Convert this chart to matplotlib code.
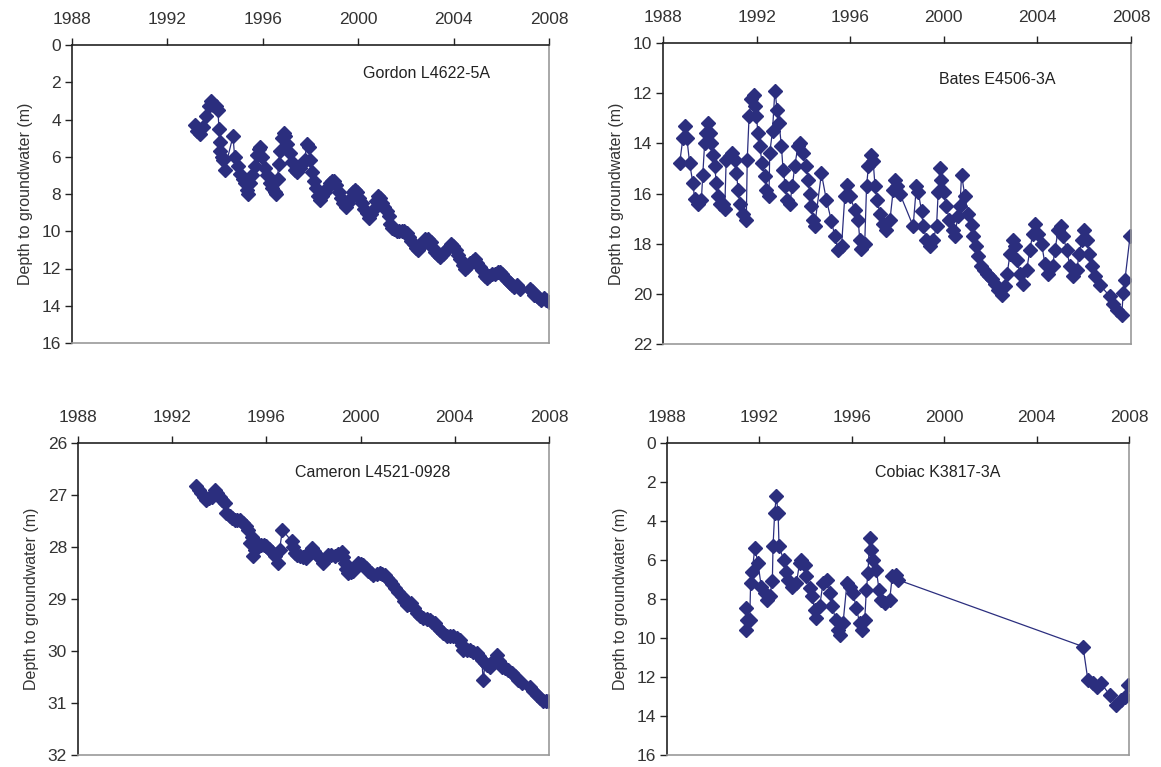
import matplotlib
matplotlib.use("Agg")
import matplotlib.pyplot as plt

plt.rcParams['font.family'] = ['Liberation Sans', 'DejaVu Sans']

NAVY = '#2B2E7E'

# ---------------- data ----------------
gordon_year = [1993.14, 1993.25, 1993.38, 1993.50, 1993.63, 1993.75, 1993.84, 1993.92, 1994.02, 1994.12,
               1994.16, 1994.19, 1994.22, 1994.27, 1994.33, 1994.40, 1994.75, 1994.82, 1994.95, 1995.05,
               1995.15, 1995.24, 1995.32, 1995.38, 1995.45, 1995.55, 1995.66, 1995.75, 1995.82, 1995.90,
               1995.98, 1996.08, 1996.18, 1996.29, 1996.40, 1996.50, 1996.57, 1996.62, 1996.66, 1996.72,
               1996.80, 1996.87, 1996.95, 1997.03, 1997.13, 1997.22, 1997.34, 1997.45, 1997.55, 1997.65,
               1997.75, 1997.85, 1997.92, 1997.98, 1998.06, 1998.15, 1998.25, 1998.33, 1998.40, 1998.50,
               1998.60, 1998.70, 1998.80, 1998.90, 1998.98, 1999.08, 1999.18, 1999.28, 1999.38, 1999.48,
               1999.58, 1999.68, 1999.78, 1999.88, 1999.95, 2000.05, 2000.15, 2000.25, 2000.35, 2000.45,
               2000.55, 2000.65, 2000.75, 2000.85, 2000.92, 2001.00, 2001.10, 2001.20, 2001.28, 2001.33,
               2001.42, 2001.52, 2001.62, 2001.72, 2001.82, 2001.92, 2002.03, 2002.12, 2002.22, 2002.32,
               2002.42, 2002.52, 2002.62, 2002.72, 2002.82, 2002.94, 2003.04, 2003.14, 2003.24, 2003.34,
               2003.45, 2003.56, 2003.67, 2003.78, 2003.90, 2003.99, 2004.08, 2004.18, 2004.28, 2004.38,
               2004.48, 2004.58, 2004.70, 2004.80, 2004.90, 2005.00, 2005.10, 2005.20, 2005.30, 2005.40,
               2005.50, 2005.62, 2005.75, 2005.85, 2005.95, 2006.05, 2006.15, 2006.25, 2006.35, 2006.45,
               2006.55, 2006.65, 2006.79, 2007.20, 2007.29, 2007.38, 2007.48, 2007.58, 2007.68, 2007.78,
               2007.88, 2007.98]
gordon_depth = [4.3, 4.6, 4.8, 4.4, 3.8, 3.3, 3.0, 3.2, 3.3, 3.5,
                4.5, 5.2, 5.7, 6.0, 6.2, 6.7, 4.9, 6.0, 6.5, 6.9,
                7.2, 7.4, 7.8, 8.0, 7.4, 7.0, 6.5, 5.9, 5.6, 5.5,
                6.0, 6.6, 7.0, 7.4, 7.7, 7.9, 8.0, 7.2, 6.4, 5.7,
                5.0, 4.7, 4.9, 5.3, 5.8, 6.3, 6.7, 6.8, 6.6, 6.4,
                6.2, 5.3, 5.5, 6.2, 6.8, 7.3, 7.7, 8.1, 8.3, 8.1,
                7.9, 7.7, 7.4, 7.3, 7.3, 7.5, 7.9, 8.2, 8.5, 8.7,
                8.5, 8.2, 7.9, 7.8, 7.9, 8.2, 8.5, 8.8, 9.0, 9.3,
                9.1, 8.8, 8.4, 8.1, 8.2, 8.5, 8.7, 8.9, 9.2, 9.6,
                9.8, 9.9, 10.0, 10.0, 10.0, 10.0, 10.1, 10.3, 10.5, 10.7,
                10.9, 11.0, 10.8, 10.6, 10.4, 10.4, 10.6, 10.9, 11.1, 11.3,
                11.4, 11.2, 11.0, 10.9, 10.7, 10.8, 11.0, 11.3, 11.5, 11.8,
                12.0, 11.9, 11.7, 11.6, 11.5, 11.7, 11.9, 12.1, 12.4, 12.5,
                12.4, 12.3, 12.3, 12.2, 12.2, 12.3, 12.5, 12.6, 12.8, 12.9,
                13.0, 12.9, 13.1, 13.1, 13.2, 13.4, 13.5, 13.6, 13.7, 13.6,
                13.7, 13.8]

bates_year = [1988.71, 1988.85, 1988.93, 1989.02, 1989.14, 1989.28, 1989.35, 1989.50, 1989.64, 1989.70,
              1989.78, 1989.85, 1989.92, 1990.00, 1990.07, 1990.14, 1990.21, 1990.28, 1990.35, 1990.45,
              1990.57, 1990.64, 1990.70, 1990.85, 1990.95, 1991.06, 1991.14, 1991.21, 1991.28, 1991.42,
              1991.56, 1991.60, 1991.68, 1991.78, 1991.88, 1991.93, 1991.99, 1992.06, 1992.13, 1992.24,
              1992.35, 1992.42, 1992.53, 1992.56, 1992.68, 1992.78, 1992.88, 1992.96, 1993.06, 1993.13,
              1993.23, 1993.30, 1993.42, 1993.53, 1993.63, 1993.77, 1993.84, 1993.99, 1994.13, 1994.20,
              1994.27, 1994.34, 1994.41, 1994.48, 1994.77, 1994.98, 1995.20, 1995.34, 1995.48, 1995.63,
              1995.77, 1995.87, 1995.98, 1996.20, 1996.34, 1996.41, 1996.48, 1996.62, 1996.70, 1996.78,
              1996.87, 1996.98, 1997.06, 1997.15, 1997.27, 1997.41, 1997.55, 1997.70, 1997.84, 1997.91,
              1998.00, 1998.12, 1998.69, 1998.83, 1998.91, 1999.05, 1999.12, 1999.26, 1999.40, 1999.55,
              1999.69, 1999.76, 1999.83, 1999.90, 1999.99, 2000.10, 2000.24, 2000.40, 2000.47, 2000.60,
              2000.69, 2000.76, 2000.90, 2001.04, 2001.19, 2001.26, 2001.37, 2001.47, 2001.61, 2001.72,
              2001.83, 2001.94, 2002.04, 2002.18, 2002.33, 2002.47, 2002.61, 2002.71, 2002.83, 2002.97,
              2003.05, 2003.14, 2003.25, 2003.40, 2003.54, 2003.68, 2003.80, 2003.90, 2004.04, 2004.18,
              2004.32, 2004.46, 2004.65, 2004.75, 2004.89, 2004.99, 2005.10, 2005.25, 2005.39, 2005.53,
              2005.68, 2005.79, 2005.89, 2005.99, 2006.10, 2006.22, 2006.32, 2006.46, 2006.67, 2007.10,
              2007.24, 2007.39, 2007.60, 2007.67, 2007.74, 2007.96]
bates_depth = [14.8, 13.8, 13.3, 13.8, 14.8, 15.6, 16.2, 16.4, 16.25, 15.25,
               14.0, 13.6, 13.2, 13.6, 14.0, 14.45, 14.9, 15.6, 16.1, 16.4,
               16.4, 16.6, 14.65, 14.5, 14.4, 14.65, 15.2, 15.85, 16.4, 16.8,
               17.05, 14.65, 12.9, 12.25, 12.06, 12.5, 12.9, 13.6, 14.1, 14.8,
               15.3, 15.85, 16.1, 14.4, 13.5, 11.9, 12.66, 13.2, 14.1, 15.05,
               15.7, 16.25, 16.4, 15.7, 14.9, 14.1, 14.0, 14.4, 14.9, 15.45,
               16.0, 16.5, 17.05, 17.3, 15.2, 16.25, 17.1, 17.7, 18.25, 18.1,
               16.1, 15.65, 16.1, 16.65, 17.05, 17.85, 18.2, 18.0, 15.7, 14.9,
               14.45, 14.7, 15.7, 16.25, 16.8, 17.2, 17.45, 17.05, 15.85, 15.45,
               15.7, 16.0, 17.3, 15.7, 15.95, 16.7, 17.3, 17.85, 18.1, 17.85,
               17.3, 15.95, 15.0, 15.45, 15.95, 16.5, 17.05, 17.45, 17.7, 16.9,
               16.5, 15.25, 16.1, 16.8, 17.25, 17.7, 18.1, 18.5, 18.9, 19.05,
               19.2, 19.3, 19.4, 19.6, 19.85, 20.05, 19.7, 19.2, 18.4, 17.85,
               18.1, 18.65, 19.2, 19.6, 19.05, 18.25, 17.6, 17.2, 17.6, 18.0,
               18.8, 19.2, 18.9, 18.25, 17.45, 17.3, 17.7, 18.25, 18.9, 19.3,
               19.05, 18.4, 17.85, 17.45, 17.85, 18.4, 18.9, 19.3, 19.65, 20.1,
               20.4, 20.65, 20.85, 19.97, 19.45, 17.7]

cameron_year = [1993.03, 1993.14, 1993.24, 1993.35, 1993.45, 1993.56, 1993.67, 1993.81, 1993.92, 1994.02,
                1994.13, 1994.23, 1994.30, 1994.44, 1994.55, 1994.66, 1994.77, 1994.87, 1995.01, 1995.12,
                1995.22, 1995.30, 1995.37, 1995.44, 1995.51, 1995.58, 1995.68, 1995.79, 1995.90, 1996.00,
                1996.11, 1996.22, 1996.36, 1996.50, 1996.56, 1996.68, 1997.07, 1997.14, 1997.21, 1997.32,
                1997.42, 1997.56, 1997.70, 1997.81, 1997.92, 1998.02, 1998.13, 1998.27, 1998.41, 1998.52,
                1998.62, 1998.76, 1998.91, 1999.05, 1999.19, 1999.26, 1999.33, 1999.40, 1999.47, 1999.58,
                1999.69, 1999.80, 1999.90, 2000.00, 2000.11, 2000.22, 2000.32, 2000.43, 2000.54, 2000.68,
                2000.82, 2000.92, 2001.03, 2001.14, 2001.24, 2001.35, 2001.46, 2001.60, 2001.74, 2001.85,
                2001.95, 2002.06, 2002.16, 2002.27, 2002.38, 2002.52, 2002.66, 2002.80, 2002.94, 2003.05,
                2003.16, 2003.26, 2003.37, 2003.51, 2003.65, 2003.79, 2003.93, 2004.08, 2004.22, 2004.29,
                2004.36, 2004.50, 2004.64, 2004.78, 2004.93, 2005.04, 2005.14, 2005.21, 2005.28, 2005.38,
                2005.49, 2005.64, 2005.78, 2005.88, 2005.99, 2006.13, 2006.27, 2006.41, 2006.56, 2006.70,
                2006.84, 2007.19, 2007.33, 2007.48, 2007.62, 2007.76, 2007.87, 2007.97]
cameron_depth = [26.83, 26.9, 26.96, 27.03, 27.09, 27.06, 27.03, 26.9, 26.96, 27.03,
                 27.09, 27.16, 27.35, 27.41, 27.45, 27.48, 27.48, 27.48, 27.54, 27.6,
                 27.67, 27.93, 27.8, 28.18, 28.05, 27.99, 27.97, 27.96, 27.97, 27.99,
                 28.03, 28.09, 28.18, 28.31, 28.05, 27.67, 27.89, 28.0, 28.12, 28.15,
                 28.18, 28.2, 28.21, 28.1, 28.02, 28.08, 28.15, 28.22, 28.31, 28.22,
                 28.15, 28.16, 28.18, 28.14, 28.09, 28.2, 28.31, 28.42, 28.5, 28.49,
                 28.47, 28.38, 28.31, 28.32, 28.34, 28.4, 28.47, 28.5, 28.54, 28.52,
                 28.5, 28.52, 28.54, 28.6, 28.66, 28.72, 28.79, 28.87, 28.95, 29.03,
                 29.11, 29.1, 29.08, 29.17, 29.27, 29.32, 29.37, 29.39, 29.4, 29.44,
                 29.47, 29.53, 29.59, 29.66, 29.72, 29.72, 29.72, 29.75, 29.79, 29.88,
                 29.98, 29.98, 29.98, 30.01, 30.04, 30.1, 30.17, 30.56, 30.24, 30.27,
                 30.3, 30.2, 30.08, 30.2, 30.3, 30.33, 30.36, 30.42, 30.49, 30.55,
                 30.62, 30.69, 30.77, 30.85, 30.91, 30.97, 30.97, 30.97]

cobiac_year = [1991.41, 1991.46, 1991.41, 1991.58, 1991.62, 1991.69, 1991.80, 1991.94, 1992.08, 1992.23,
               1992.33, 1992.44, 1992.56, 1992.59, 1992.66, 1992.73, 1992.81, 1992.85, 1993.05, 1993.14,
               1993.24, 1993.43, 1993.60, 1993.74, 1993.82, 1993.96, 1994.03, 1994.18, 1994.29, 1994.39,
               1994.46, 1994.61, 1994.75, 1994.93, 1995.07, 1995.16, 1995.30, 1995.40, 1995.47, 1995.62,
               1995.79, 1995.91, 1996.05, 1996.20, 1996.34, 1996.46, 1996.56, 1996.63, 1996.70, 1996.77,
               1996.85, 1996.92, 1997.06, 1997.18, 1997.28, 1997.42, 1997.64, 1997.75, 1997.90, 1998.00,
               2006.01, 2006.22, 2006.44, 2006.61, 2006.80, 2007.16, 2007.42, 2007.67, 2007.81, 2007.96]
cobiac_depth = [8.47, 9.07, 9.58, 9.07, 7.19, 6.59, 5.39, 6.16, 7.36, 7.7,
                8.04, 7.87, 7.1, 5.3, 3.59, 2.74, 3.59, 5.3, 5.99, 6.59,
                7.02, 7.36, 7.19, 6.16, 5.99, 6.25, 6.84, 7.44, 7.87, 8.56,
                8.98, 8.38, 7.19, 7.02, 7.7, 8.38, 9.07, 9.58, 9.84, 9.24,
                7.19, 7.36, 7.7, 8.47, 9.24, 9.58, 9.07, 7.53, 6.67, 4.88,
                5.48, 5.99, 6.5, 7.53, 8.04, 8.21, 8.04, 6.84, 6.76, 7.02,
                10.44, 12.15, 12.32, 12.49, 12.32, 12.92, 13.43, 13.18, 13.0, 12.41]

panels = [
    dict(name='Gordon L4622-5A', x=gordon_year, y=gordon_depth, ylim=(0, 16), yticks=[0, 2, 4, 6, 8, 10, 12, 14, 16],
         rect=(72, 45, 549, 343), label_pos=(0.61, 0.905)),
    dict(name='Bates E4506-3A', x=bates_year, y=bates_depth, ylim=(10, 22), yticks=[10, 12, 14, 16, 18, 20, 22],
         rect=(663, 43, 1131, 344), label_pos=(0.59, 0.88)),
    dict(name='Cameron L4521-0928', x=cameron_year, y=cameron_depth, ylim=(26, 32), yticks=[26, 27, 28, 29, 30, 31, 32],
         rect=(78, 443, 549, 755), label_pos=(0.46, 0.905)),
    dict(name='Cobiac K3817-3A', x=cobiac_year, y=cobiac_depth, ylim=(0, 16), yticks=[0, 2, 4, 6, 8, 10, 12, 14, 16],
         rect=(667, 443, 1129, 755), label_pos=(0.45, 0.905)),
]
xticks = [1988, 1992, 1996, 2000, 2004, 2008]

W, H = 1161, 767
fig = plt.figure(figsize=(W / 100, H / 100), dpi=100)

for p in panels:
    l, t, r, b = p['rect']
    ax = fig.add_axes([l / W, 1 - b / H, (r - l) / W, (b - t) / H])
    ax.plot(p['x'], p['y'], color=NAVY, lw=0.9, marker='D', markersize=7.5,
            markerfacecolor=NAVY, markeredgecolor=NAVY)
    ax.set_xlim(1988, 2008)
    ax.set_ylim(p['ylim'][1], p['ylim'][0])
    ax.set_xticks(xticks)
    ax.set_yticks(p['yticks'])
    ax.xaxis.tick_top()
    ax.tick_params(axis='both', direction='out', length=5, width=1, labelsize=12.5,
                   colors='#222222', labelcolor='#333333', pad=3)
    ax.tick_params(axis='x', pad=8)
    ax.set_ylabel('Depth to groundwater (m)', fontsize=11.5, color='#333333', labelpad=6)
    for s in ['top', 'left']:
        ax.spines[s].set_color('#222222')
        ax.spines[s].set_linewidth(1.2)
    for s in ['right', 'bottom']:
        ax.spines[s].set_color('#999999')
        ax.spines[s].set_linewidth(1.2)
    ax.text(p['label_pos'][0], p['label_pos'][1], p['name'], transform=ax.transAxes,
            fontsize=11.5, color='#222222', ha='left', va='center')

fig.savefig('out.png', dpi=100)
